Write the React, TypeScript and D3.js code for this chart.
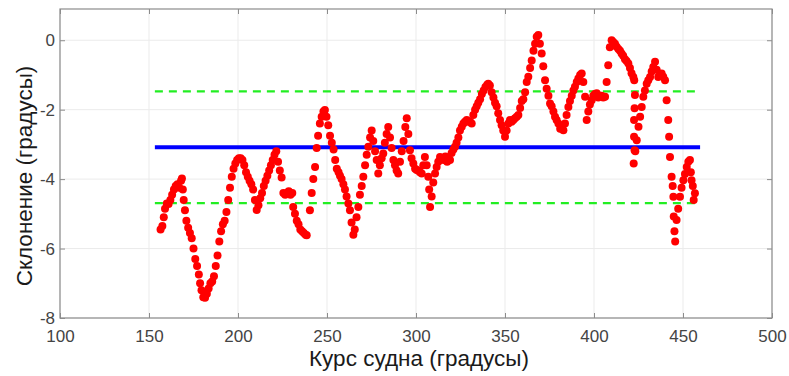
import { useEffect, useRef } from "react";
import * as d3 from "d3";

const WIDTH = 789;
const HEIGHT = 376;
const MARGIN = { top: 9, right: 17, bottom: 58, left: 60 };

// ticks
const xTicks = [100, 150, 200, 250, 300, 350, 400, 450, 500];
const yTicks = [-8, -6, -4, -2, 0];

// mean and +/- band of the declination
const meanValue = -3.08;
const bandUpper = -1.47;
const bandLower = -4.69;
const lineRange = [153.3, 459.6];

// heading (deg) / declination (deg)
const points: [number, number][] = [
  [156.5, -5.45], [157.5, -5.35], [158.3, -5.1], [159, -4.85], [160, -4.7], [161, -4.72],
  [162, -4.6], [163, -4.45], [164, -4.3], [165, -4.2], [166, -4.15], [167, -4.25],
  [168, -4.05], [168.5, -3.98], [169, -4.3], [169.5, -4.6], [170.2, -4.9], [171, -5.2],
  [172, -5.4], [173, -5.55], [174, -5.7], [175, -6.0], [176, -6.3], [177, -6.5],
  [178, -6.75], [178.7, -7.0], [179.5, -7.2], [180.5, -7.4], [181.5, -7.42], [182.5, -7.3],
  [183.5, -7.15], [184.5, -7.0], [185.5, -6.95], [186.5, -6.8], [187.5, -6.5], [188.5, -6.2],
  [189.5, -5.8], [190.5, -5.5], [191.5, -5.3], [192.5, -5.2], [193.5, -4.95], [194.5, -4.6],
  [195.5, -4.25], [196.5, -3.93], [197.5, -3.7], [198.5, -3.55], [199.5, -3.45], [200.5, -3.4],
  [201.5, -3.4], [202.5, -3.45], [203.5, -3.6], [204.5, -3.8], [205.5, -3.93], [206.5, -4.05],
  [207.5, -4.15], [208.5, -4.3], [209.5, -4.6], [210.5, -4.89], [211.5, -4.75], [212.5, -4.55],
  [213.5, -4.4], [214.5, -4.2], [215.5, -4.05], [216.5, -3.9], [217.5, -3.75], [218.5, -3.6],
  [219.5, -3.45], [220.5, -3.3], [221.5, -3.2], [222.5, -3.5], [223.5, -3.75], [224.5, -3.95],
  [225.5, -4.4], [226.5, -4.45], [227.5, -4.4], [228.5, -4.35], [229.5, -4.45], [230.5, -4.4],
  [231, -4.8], [232, -5.0], [233, -5.2], [234, -5.3], [235, -5.45], [236, -5.5],
  [237, -5.55], [238, -5.6], [238.6, -5.62],
  [240.4, -4.9], [241.4, -4.4], [242.3, -4.0], [243.3, -3.65], [244.2, -3.1], [245, -2.75],
  [246, -2.4], [247, -2.2], [248, -2.05], [248.8, -2.01], [249.7, -2.2], [250.7, -2.45],
  [251.7, -2.75], [252.7, -2.95], [253.7, -3.15], [254.6, -3.45], [255.5, -3.7], [256.5, -3.8],
  [257.3, -3.9], [258.2, -4.0], [259.2, -4.15], [260.1, -4.3], [261, -4.5], [262, -4.7],
  [262.9, -4.9], [263.8, -5.25], [264.8, -5.6], [265.6, -5.45], [266.6, -5.1], [267.6, -4.8],
  [268.5, -4.45], [269.5, -4.2], [270.4, -3.93], [271.4, -3.6], [272.3, -3.3], [273.2, -3.07],
  [274.2, -2.8], [275.1, -2.6], [276, -2.9], [277, -3.2], [277.9, -3.45], [278.8, -3.84],
  [279.7, -3.6], [280.7, -3.4], [281.6, -3.26], [282.5, -2.95], [283.5, -2.7], [284.4, -2.5],
  [285.4, -2.8], [286.3, -3.1], [287.3, -3.45], [288.2, -3.6], [289.1, -3.75], [290, -3.84],
  [291, -3.5], [292, -3.2], [293, -2.9], [294, -2.5], [294.8, -2.25], [295.7, -2.7],
  [296.6, -3.17], [297.5, -3.4], [298.5, -3.55], [299.5, -3.7], [300.4, -3.74], [301.3, -3.75],
  [302.2, -3.8], [303.2, -3.84], [304.1, -3.6], [305, -3.36], [306, -3.6], [306.9, -3.93],
  [307.4, -4.3], [307.9, -4.8], [308.8, -4.5], [309.7, -4.1], [310.7, -3.84], [311.6, -3.65],
  [312.5, -3.5], [313.5, -3.36], [314.5, -3.4], [315.5, -3.45], [316.5, -3.35], [317.5, -3.5],
  [318.2, -3.45], [319.1, -3.45], [320, -3.25], [321, -3.15], [321.9, -3.07], [322.8, -2.95],
  [323.8, -2.8], [324.7, -2.6], [325.7, -2.49], [326.6, -2.4], [327.5, -2.35], [328.5, -2.3],
  [329.4, -2.35], [330.4, -2.35], [331.3, -2.4], [332.2, -2.15], [333.2, -2.0], [334.1, -1.9],
  [335, -1.8], [336, -1.7], [337, -1.55], [338, -1.45], [339, -1.35], [340, -1.28],
  [340.6, -1.25], [341.5, -1.3], [342.5, -1.5], [343.5, -1.65], [344.4, -1.8], [345.3, -1.9],
  [346.2, -2.1], [347.2, -2.3], [348.1, -2.45], [349, -2.6], [350, -2.78], [350.9, -2.6],
  [351.9, -2.4], [352.8, -2.3], [353.7, -2.35], [354.7, -2.3], [355.6, -2.25], [356.6, -2.2],
  [357.5, -2.15], [358.5, -1.95], [359.4, -1.75], [360.3, -1.7], [361.3, -1.5], [362.2, -1.2],
  [363.1, -1.05], [364.1, -0.8], [365, -0.58], [366, -0.3], [366.9, -0.1], [367.8, 0.1],
  [368.7, 0.15], [369.6, -0.1], [370.6, -0.38], [371.5, -0.75], [372.5, -1.15], [373.4, -1.4],
  [374.4, -1.6], [375.3, -1.82], [376.2, -1.9], [377.2, -2.05], [378.1, -2.2], [379, -2.3],
  [380, -2.4], [381, -2.55], [381.9, -2.55], [382.8, -2.59], [383.7, -2.4], [384.6, -2.15],
  [385.6, -1.92], [386.5, -1.75], [387.5, -1.6], [388.4, -1.45], [389.3, -1.34], [390.3, -1.2],
  [391.2, -1.1], [392.2, -1.0], [393.1, -0.96], [394, -1.2], [395, -1.63], [395.9, -2.3],
  [396.8, -2.05], [397.7, -1.85], [398.7, -1.73], [399.6, -1.6], [400.5, -1.55], [401.5, -1.53],
  [402.4, -1.65], [403.3, -1.6], [404.3, -1.6], [405.2, -1.65], [406.2, -1.63],
  [407.1, -1.2], [408, -0.72], [408.9, -0.2], [409.9, 0.0], [410.8, -0.05], [411.8, -0.1],
  [412.7, -0.19], [413.7, -0.25], [414.6, -0.3], [415.5, -0.38], [416.4, -0.45], [417.4, -0.55],
  [418.3, -0.6], [419.3, -0.67], [420.2, -0.8], [421.1, -0.95], [422.1, -1.06], [422.6, -1.15],
  [423, -1.58], [422.8, -1.96], [422.5, -2.3], [422.5, -2.78], [422.8, -3.17], [422.3, -3.55],
  [423.2, -3.2], [424, -2.88], [425, -2.49], [425.9, -2.2], [426.8, -1.92], [427.7, -1.63],
  [428.6, -1.45], [429.6, -1.25], [430.5, -1.15], [431.5, -1.06], [432.4, -0.9], [433.3, -0.77],
  [434.3, -0.62], [435.2, -0.85], [436.1, -1.06], [437, -1.0], [438, -0.96], [438.9, -1.05],
  [439.9, -1.15], [440.8, -1.73], [441.7, -2.3], [442.2, -2.78], [442.7, -3.36], [443.6, -3.93],
  [444.2, -4.2], [444.6, -4.51], [444.8, -5.08], [445.2, -5.5], [445.6, -5.8], [446.4, -5.18],
  [447.3, -4.85], [448.3, -4.51], [449.2, -4.25], [450.2, -4.03], [451.1, -3.85], [452.1, -3.65],
  [453, -3.5], [453.9, -3.45], [454.4, -3.8], [454.8, -4.03], [455.5, -4.2], [456, -4.6],
  [456.7, -4.41],
];

const FONT = "Arial, 'Liberation Sans', sans-serif";

const App = () => {
  const axesRef = useRef<SVGGElement>(null);
  const boundsWidth = WIDTH - MARGIN.left - MARGIN.right;
  const boundsHeight = HEIGHT - MARGIN.top - MARGIN.bottom;

  const xScale = d3.scaleLinear().domain([100, 500]).range([0, boundsWidth]);
  const yScale = d3.scaleLinear().domain([-8, 0.9]).range([boundsHeight, 0]);

  // axes + grid drawn with d3
  useEffect(() => {
    const g = d3.select(axesRef.current);
    g.selectAll("*").remove();

    // grid
    g.append("g")
      .selectAll("line")
      .data(xTicks)
      .enter()
      .append("line")
      .attr("x1", (d) => xScale(d))
      .attr("x2", (d) => xScale(d))
      .attr("y1", 0)
      .attr("y2", boundsHeight)
      .attr("stroke", "#ebebeb");
    g.append("g")
      .selectAll("line")
      .data(yTicks)
      .enter()
      .append("line")
      .attr("x1", 0)
      .attr("x2", boundsWidth)
      .attr("y1", (d) => yScale(d))
      .attr("y2", (d) => yScale(d))
      .attr("stroke", "#ebebeb");

    const styleAxis = (sel: d3.Selection<SVGGElement, unknown, null, undefined>) => {
      sel.select(".domain").remove();
      sel.selectAll(".tick line").attr("stroke", "#8c8c8c");
      sel
        .selectAll(".tick text")
        .attr("fill", "#444")
        .attr("font-size", 17)
        .attr("font-family", FONT);
    };

    // plain hyphen-minus like the original
    const fmt = (d: d3.NumberValue) => String(d);

    g.append("g")
      .attr("transform", `translate(0,${boundsHeight})`)
      .call(d3.axisBottom(xScale).tickValues(xTicks).tickSize(-5).tickPadding(12).tickFormat(fmt))
      .call(styleAxis);
    g.append("g")
      .call(d3.axisTop(xScale).tickValues(xTicks).tickSize(-5).tickFormat(() => ""))
      .call(styleAxis);
    g.append("g")
      .call(d3.axisLeft(yScale).tickValues(yTicks).tickSize(-5).tickPadding(5).tickFormat(fmt))
      .call(styleAxis);
    g.append("g")
      .attr("transform", `translate(${boundsWidth},0)`)
      .call(d3.axisRight(yScale).tickValues(yTicks).tickSize(-5).tickFormat(() => ""))
      .call(styleAxis);

    // box
    g.append("rect")
      .attr("x", 0)
      .attr("y", 0)
      .attr("width", boundsWidth)
      .attr("height", boundsHeight)
      .attr("fill", "none")
      .attr("stroke", "#8c8c8c")
      .attr("stroke-width", 1.2);
  }, []);

  const hLine = (v: number) => ({
    x1: xScale(lineRange[0]),
    x2: xScale(lineRange[1]),
    y1: yScale(v),
    y2: yScale(v),
  });

  return (
    <div style={{ position: "absolute", left: 0, top: 0 }}>
      <svg width={WIDTH} height={HEIGHT} style={{ display: "block", background: "#fff" }}>
        <g transform={`translate(${MARGIN.left},${MARGIN.top})`}>
          <g ref={axesRef} />
          <line {...hLine(bandUpper)} stroke="#22ee22" strokeWidth={2.2} strokeDasharray="8,6" />
          <line {...hLine(bandLower)} stroke="#22ee22" strokeWidth={2.2} strokeDasharray="8,6" />
          <line {...hLine(meanValue)} stroke="#0000ff" strokeWidth={4} />
          <g>
            {points.map(([x, y], i) => (
              <circle key={i} cx={xScale(x)} cy={yScale(y)} r={4} fill="#ff0000" />
            ))}
          </g>
        </g>
        <text
          x={MARGIN.left + boundsWidth / 2 + 3}
          y={366}
          textAnchor="middle"
          fontSize={22.5}
          fontFamily={FONT}
          fill="#1a1a1a"
        >
          Курс судна (градусы)
        </text>
        <text
          transform={`translate(32,176) rotate(-90)`}
          textAnchor="middle"
          fontSize={22.5}
          fontFamily={FONT}
          fill="#1a1a1a"
        >
          Склонение (градусы)
        </text>
      </svg>
    </div>
  );
};

export default App;
